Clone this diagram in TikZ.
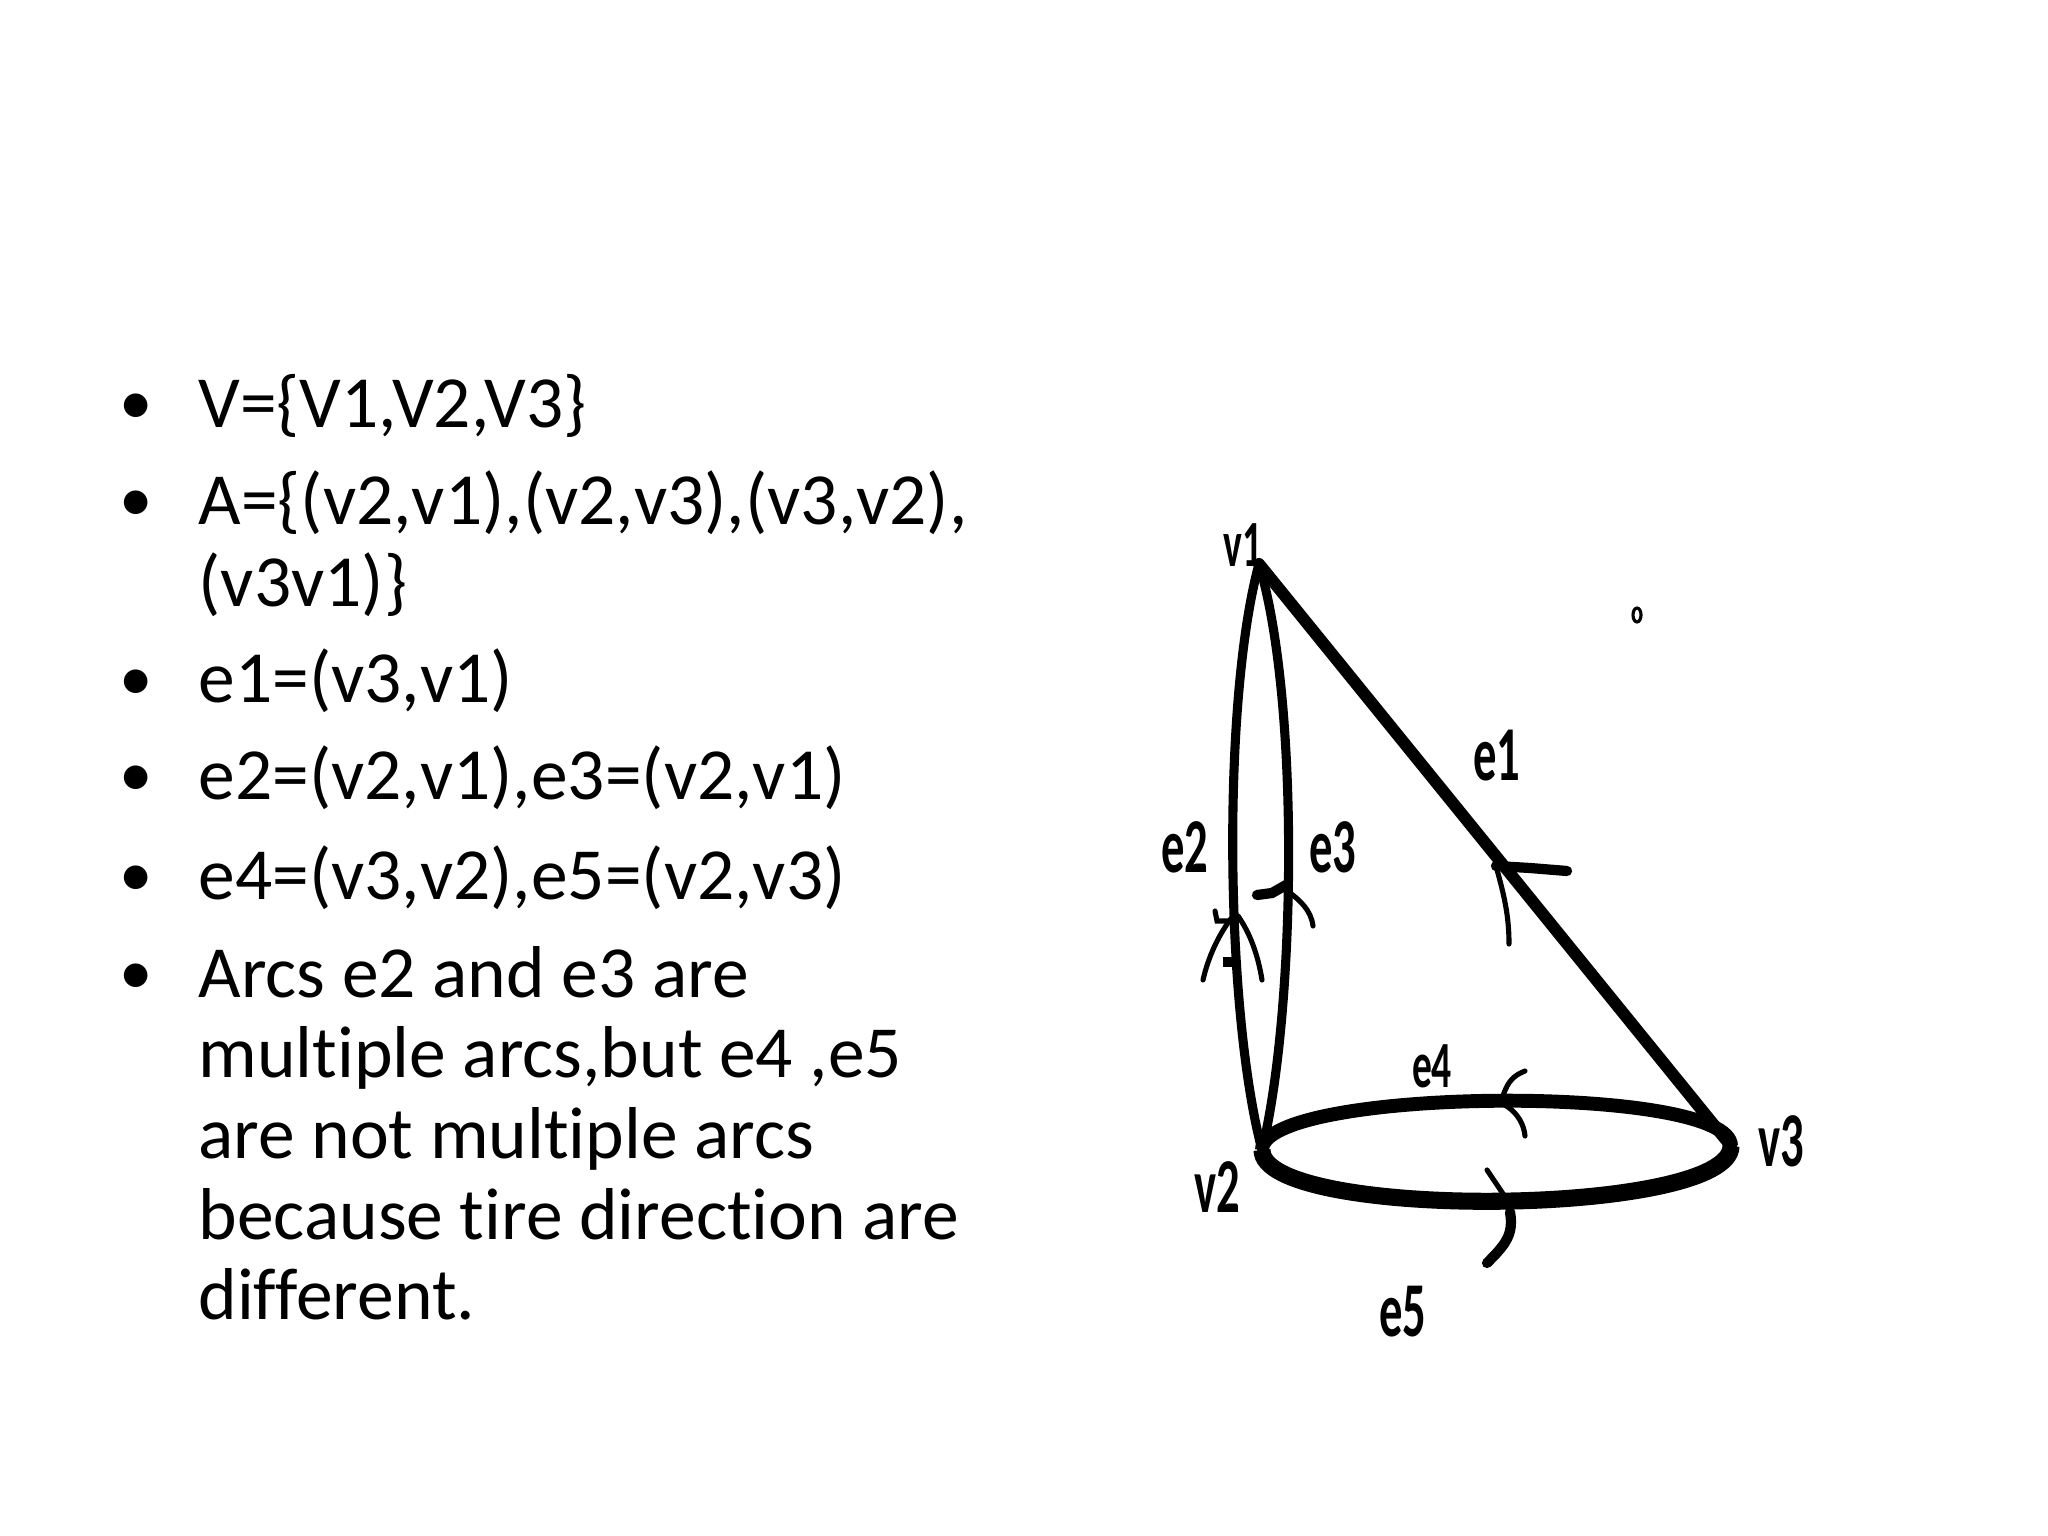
\documentclass[tikz,border=0pt]{standalone}
\usepackage{fontspec}
\setmainfont{Carlito}[Ligatures=NoCommon]
\newfontfamily\lblfont[FakeStretch=0.6,Ligatures=NoCommon]{Carlito}
\tikzset{
  txt/.style={anchor=base west, inner sep=0pt, font=\fontsize{25.84}{31}\selectfont},
  bul/.style={anchor=base, inner sep=0pt, font=\fontsize{23.5}{28}\selectfont},
  lbl/.style={inner sep=0pt, font=\lblfont\bfseries\fontsize{27.3}{30}\selectfont},
  lblsmall/.style={inner sep=0pt, font=\lblfont\bfseries\fontsize{23.2}{26}\selectfont},
  lensline/.style={line width=3.2pt, line cap=round},
  diagline/.style={line width=4.2pt, line cap=round},
  ringtop/.style={line width=4.9pt},
  ringbot/.style={line width=6pt},
  thinarm/.style={line width=1.8pt, line cap=round},
  thickarm/.style={line width=3.6pt, line cap=round},
}
\begin{document}
\begin{tikzpicture}[x=0.3515625pt, y=-0.3515625pt]
\useasboundingbox (0,0) rectangle (2048,1536);
\fill[white] (0,0) rectangle (2048,1536);

% ---- bullet text ----
\node[bul] (b1) at (136,425) {•};
\node[txt] (t1) at (198,428) {V=\{V1,V2,V3\}};
\node[bul] (b2) at (136,522) {•};
\node[txt] (t2) at (198,525) {A=\{(v2,v1),(v2,v3),(v3,v2),};
\node[txt] (t3) at (198,607) {(v3v1)\}};
\node[bul] (b4) at (136,700) {•};
\node[txt] (t4) at (198,703) {e1=(v3,v1)};
\node[bul] (b5) at (136,796) {•};
\node[txt] (t5) at (198,799) {e2=(v2,v1),e3=(v2,v1)};
\node[bul] (b6) at (136,896) {•};
\node[txt] (t6) at (198,899) {e4=(v3,v2),e5=(v2,v3)};
\node[bul] (b7) at (136,994) {•};
\node[txt] (t7) at (198,997) {Arcs e2 and e3 are};
\node[txt] (t8) at (198,1077) {multiple arcs,but e4 ,e5};
\node[txt] (t9) at (198,1158) {are not multiple arcs};
\node[txt] (t10) at (198,1239) {because tire direction are};
\node[txt] (t11) at (198,1319) {different.};

% ---- vertices ----
\coordinate (v1) at (1259,564);
\coordinate (v2) at (1262,1150);
\coordinate (v3) at (1731,1146);

% ---- edges ----
\draw[diagline] (v3) -- (v1);
\draw[lensline] (v2) .. controls (1225,1010) and (1222,700) .. (v1);
\draw[lensline] (v2) .. controls (1296,1010) and (1300,700) .. (v1);
\draw[ringtop] (v3) .. controls +(0,-63) and +(0,-63) .. (v2);
\draw[ringbot] (v2) .. controls +(0,71) and +(0,71) .. (v3);

% ---- arrow marks ----
% e1
\draw[thickarm] (1496,866) -- (1530,868) -- (1567,871);
\draw[thinarm] (1496,866) .. controls (1504,895) and (1509,915) .. (1509,944);
% e2
\draw[thinarm] (1233,916) .. controls (1218,935) and (1208,958) .. (1203,980);
\draw[thinarm] (1238,916) .. controls (1250,933) and (1258,955) .. (1262,980);
\draw[thinarm] (1215,911) -- (1217,921) -- (1228,921);
\fill (1223,957) rectangle (1236,967);
% e3
\draw[thickarm] (1286,885) -- (1272,893) -- (1257,895);
\draw[thinarm] (1286,890) .. controls (1300,900) and (1311,910) .. (1313,926);
% e4
\draw[thinarm] (1503,1096) .. controls (1508,1080) and (1515,1075) .. (1525,1071);
\draw[thinarm] (1503,1104) .. controls (1518,1112) and (1524,1125) .. (1525,1136);
% e5
\draw[thinarm] (1487,1170) .. controls (1495,1182) and (1502,1192) .. (1509,1203);
\draw[thickarm] (1510,1212) .. controls (1514,1235) and (1505,1245) .. (1487,1263);

% ---- stray mark ----
\draw[line width=1.1pt] (1637,615) ellipse [x radius=4, y radius=7];

% ---- labels ----
\node[lblsmall] (lv1) at (1243,545) {v1};
\node[lbl] (lv2) at (1217,1187) {v2};
\node[lbl] (lv3) at (1781,1141) {v3};
\node[lbl] (le1) at (1497,756) {e1};
\node[lbl] (le2) at (1185,847) {e2};
\node[lbl] (le3) at (1333,847) {e3};
\node[lblsmall] (le4) at (1432,1066) {e4};
\node[lbl] (le5) at (1403,1312) {e5};
\end{tikzpicture}
\end{document}
